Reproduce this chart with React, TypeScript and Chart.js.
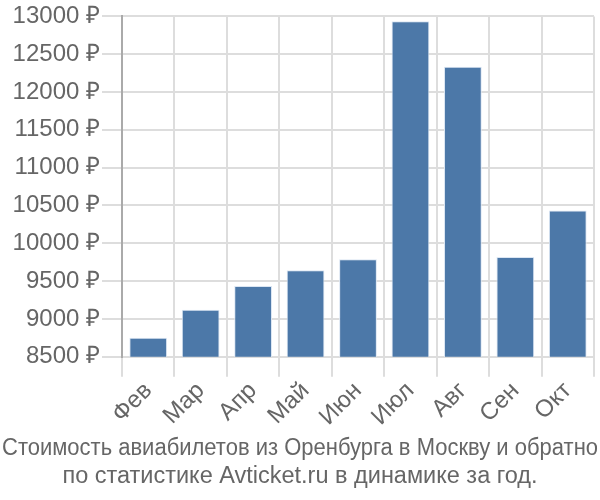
import React, { useEffect, useRef } from "react";
import { Chart, registerables } from "chart.js";

Chart.register(...registerables);

const months = ["Фев", "Мар", "Апр", "Май", "Июн", "Июл", "Авг", "Сен", "Окт"];
const prices = [8750, 9120, 9435, 9645, 9790, 12935, 12335, 9820, 10435];
const titleLines = [
  "Стоимость авиабилетов из Оренбурга в Москву и обратно",
  "по статистике Avticket.ru в динамике за год.",
];

export default function App() {
  const ref = useRef<HTMLCanvasElement | null>(null);
  useEffect(() => {
    document.body.style.margin = "0";
    if (!ref.current) return;
    const chart = new Chart(ref.current, {
      type: "bar",
      data: {
        labels: months,
        datasets: [
          {
            data: prices,
            backgroundColor: "#4c78a8",
            borderColor: "#dbe6f3",
            borderWidth: 1,
            yAxisID: "y",
          },
        ],
      },
      options: {
        animation: false,
        responsive: false,
        maintainAspectRatio: false,
        layout: { padding: { right: 2, top: 6, left: 2 } },
        plugins: {
          legend: { display: false },
          tooltip: { enabled: false },
          title: {
            display: true,
            position: "bottom",
            text: titleLines,
            color: "#666",
            font: { family: "'Liberation Sans', Arial", size: 23.5, weight: "normal", lineHeight: 1.18 },
            padding: { top: 3, bottom: 10 },
          },
        },
        scales: {
          x: {
            grid: { color: "#dddddd", lineWidth: 2, tickLength: 20, offset: true },
            border: { color: "#dddddd", width: 2 },
            ticks: {
              color: "#666",
              font: { family: "'Liberation Sans', Arial", size: 24 },
              maxRotation: 45,
              minRotation: 45,
              padding: 0,
            },
          },
          y: {
            min: 8500,
            max: 13000,
            afterFit: (s: any) => {
              s.width = 120;
            },
            grid: { color: "#dddddd", lineWidth: 2, tickLength: 20 },
            border: { color: "#aaaaaa", width: 2 },
            ticks: {
              stepSize: 500,
              color: "#666",
              font: { family: "'Liberation Sans', Arial", size: 24 },
              padding: 2,
              callback: (v: any) => v + " ₽",
            },
          },
          yRight: {
            position: "right",
            min: 8500,
            max: 13000,
            display: true,
            afterFit: (s: any) => {
              s.width = 4;
            },
            grid: { display: false, drawTicks: false },
            border: { display: false },
            ticks: { display: false },
          },
        },
      },
    });
    return () => chart.destroy();
  }, []);
  return (
    <div style={{ width: 600, height: 500 }}>
      <canvas ref={ref} width={600} height={500} />
    </div>
  );
}
